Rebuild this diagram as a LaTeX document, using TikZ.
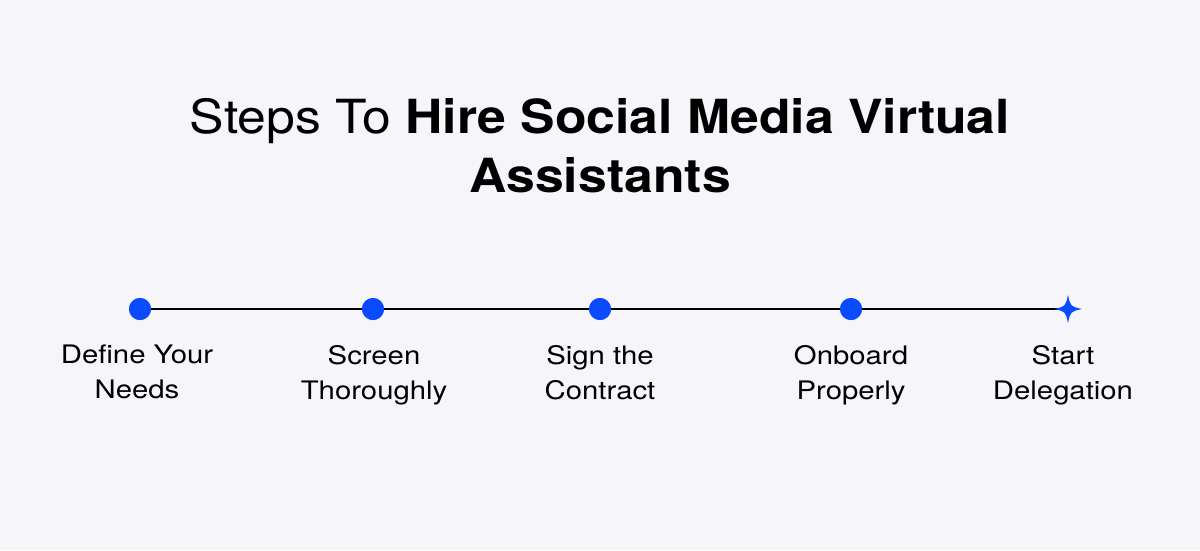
\documentclass[tikz,border=0pt]{standalone}
\usepackage{fontspec}
\setmainfont{TeX Gyre Heros}
\newfontfamily\ttlfont[FakeStretch=1.1]{TeX Gyre Heros}
\newfontfamily\lblfont[FakeStretch=1.15]{TeX Gyre Heros}
\definecolor{bg}{HTML}{F5F5FA}
\definecolor{dotblue}{HTML}{0A4BFF}
\begin{document}
\begin{tikzpicture}[x=1pt,y=-1pt,
  dot/.style={circle,fill=dotblue,inner sep=0pt,minimum size=22pt},
  lbl/.style={align=center,font=\lblfont\fontsize{25.5}{35}\selectfont,anchor=north,inner sep=0pt},
  ttl/.style={align=center,font=\ttlfont\fontsize{47}{59}\selectfont,inner sep=0pt,anchor=base}]
\fill[bg] (0,0) rectangle (1200,550);
\useasboundingbox (0,0) rectangle (1200,550);
\node[ttl] (t1) at (600,133) {Steps To \textbf{Hire Social Media Virtual}};
\node[ttl] (t2) at (600,192) {\textbf{Assistants}};
\node[dot] (d1) at (140,309) {};
\node[dot] (d2) at (373,309) {};
\node[dot] (d3) at (600,309) {};
\node[dot] (d4) at (851,309) {};
\coordinate (d5) at (1068,309);
\draw[line width=2.8pt] (d1.center) -- (d5);
\fill[dotblue] (1068,295) .. controls (1070.5,306.5) .. (1082,309)
  .. controls (1070.5,311.5) .. (1068,323)
  .. controls (1065.5,311.5) .. (1054,309)
  .. controls (1065.5,306.5) .. cycle;
\node[dot] at (d1) {};
\node[dot] at (d2) {};
\node[dot] at (d3) {};
\node[dot] at (d4) {};
\node[lbl] (l1) at (137,345) {Define Your\\Needs};
\node[lbl] (l2) at (374,345) {Screen\\Thoroughly};
\node[lbl] (l3) at (600,345) {Sign the\\Contract};
\node[lbl] (l4) at (851,345) {Onboard\\Properly};
\node[lbl] (l5) at (1063,345) {Start\\Delegation};
\end{tikzpicture}
\end{document}
